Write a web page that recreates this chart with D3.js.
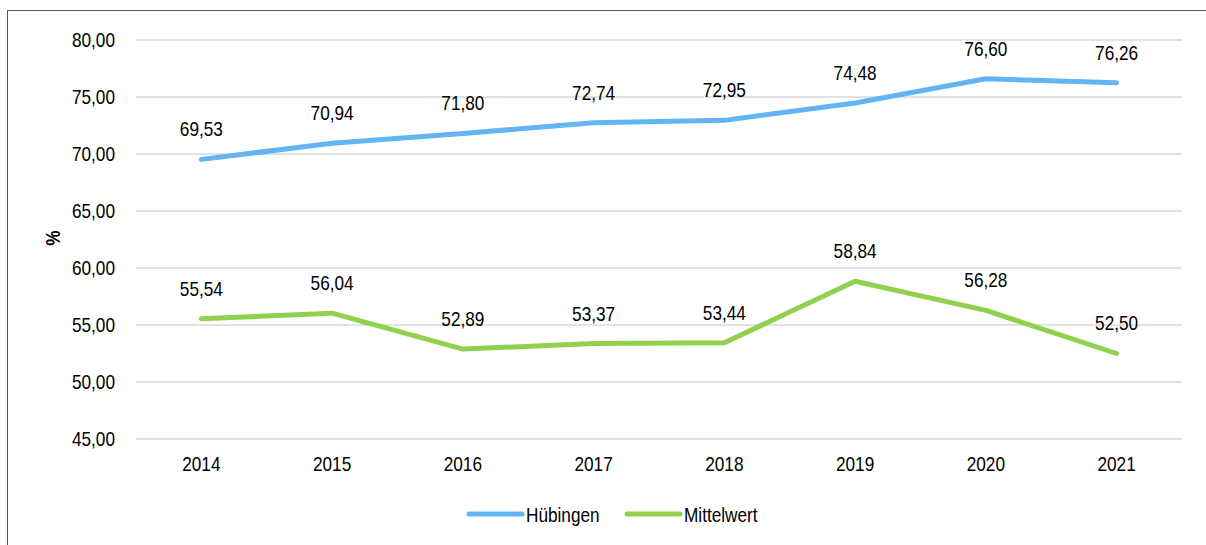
<!DOCTYPE html>
<html>
<head>
<meta charset="utf-8">
<script src="https://cdn.jsdelivr.net/npm/d3@7"></script>
<style>
  body { margin: 0; background: #fff; }
  text { font-family: "Liberation Sans", Arial, sans-serif; fill: #000; }
</style>
</head>
<body>
<svg width="1206" height="545"></svg>
<script>
  var years = ["2014", "2015", "2016", "2017", "2018", "2019", "2020", "2021"];
  var huebingen = [69.53, 70.94, 71.80, 72.74, 72.95, 74.48, 76.60, 76.26];
  var mittelwert = [55.54, 56.04, 52.89, 53.37, 53.44, 58.84, 56.28, 52.50];
  var yTicks = [45, 50, 55, 60, 65, 70, 75, 80];

  var series = [
    {name: "Hübingen", values: huebingen, color: "#63b4f2"},
    {name: "Mittelwert", values: mittelwert, color: "#92d050"}
  ];

  var font = "'Liberation Sans', Arial, sans-serif";
  var squeeze = 0.82; // imitate a narrow face

  // squash text horizontally while keeping its anchor position
  function narrow(sel) {
    sel.each(function() {
      var t = d3.select(this);
      var x0 = +(t.attr("x") || 0);
      t.attr("x", x0 / squeeze)
       .attr("transform", "scale(" + squeeze + ",1)")
       .style("font-family", font)
       .style("font-size", "21px");
    });
  }

  var svg = d3.select("svg"),
      margin = {top: 40, right: 24, bottom: 106, left: 136},
      width = 1206 - margin.left - margin.right,
      height = 545 - margin.top - margin.bottom;

  // outer frame
  svg.append("rect")
      .attr("x", 7.5).attr("y", 10.5)
      .attr("width", 1220).attr("height", 560)
      .attr("fill", "none")
      .attr("stroke", "#595959")
      .attr("stroke-width", 1);

  var g = svg.append("g").attr("transform", "translate(" + margin.left + "," + margin.top + ")");

  var x = d3.scaleBand().domain(years).range([0, width]),
      y = d3.scaleLinear().domain([45, 80]).range([height, 0]);

  var fmt = function(v) { return d3.format(".2f")(v).replace(".", ","); };

  // gridlines
  g.append("g")
      .selectAll("line")
      .data(yTicks)
      .enter().append("line")
      .attr("x1", 0).attr("x2", width)
      .attr("y1", function(d) { return y(d); })
      .attr("y2", function(d) { return y(d); })
      .attr("stroke", "#d9d9d9")
      .attr("stroke-width", 1.5);

  var yAxis = g.append("g")
      .call(d3.axisLeft(y).tickValues(yTicks).tickFormat(fmt).tickSize(0).tickPadding(21));
  yAxis.select(".domain").remove();
  yAxis.selectAll("text").call(narrow);

  var xAxis = g.append("g")
      .attr("transform", "translate(0," + height + ")")
      .call(d3.axisBottom(x).tickSize(0).tickPadding(17));
  xAxis.select(".domain").remove();
  xAxis.selectAll("text").call(narrow);

  svg.append("g")
      .attr("transform", "translate(60,238) rotate(-90)")
      .append("text")
      .attr("text-anchor", "middle")
      .style("font-weight", "bold")
      .text("%")
      .call(narrow);

  var line = d3.line()
      .x(function(d, i) { return x(years[i]) + x.bandwidth() / 2; })
      .y(function(d) { return y(d); });

  var s = g.selectAll(".series")
      .data(series)
      .enter().append("g")
      .attr("class", "series");

  s.append("path")
      .attr("d", function(d) { return line(d.values); })
      .attr("fill", "none")
      .attr("stroke", function(d) { return d.color; })
      .attr("stroke-width", 5)
      .attr("stroke-linecap", "round")
      .attr("stroke-linejoin", "round");

  s.selectAll(".lbl")
      .data(function(d) { return d.values; })
      .enter().append("text")
      .attr("class", "lbl")
      .attr("x", function(d, i) { return x(years[i]) + x.bandwidth() / 2; })
      .attr("y", function(d) { return y(d) - 23; })
      .attr("text-anchor", "middle")
      .text(fmt)
      .call(narrow);

  // legend
  var legend = svg.append("g").attr("transform", "translate(467,514)");
  var item = legend.selectAll(".item")
      .data(series)
      .enter().append("g")
      .attr("class", "item")
      .attr("transform", function(d, i) { return "translate(" + (i * 158) + ",0)"; });
  item.append("line")
      .attr("x1", 2).attr("x2", 55)
      .attr("stroke", function(d) { return d.color; })
      .attr("stroke-width", 5)
      .attr("stroke-linecap", "round");
  item.append("text")
      .attr("x", 59).attr("y", 7.5)
      .text(function(d) { return d.name; })
      .call(narrow);
</script>
</body>
</html>
